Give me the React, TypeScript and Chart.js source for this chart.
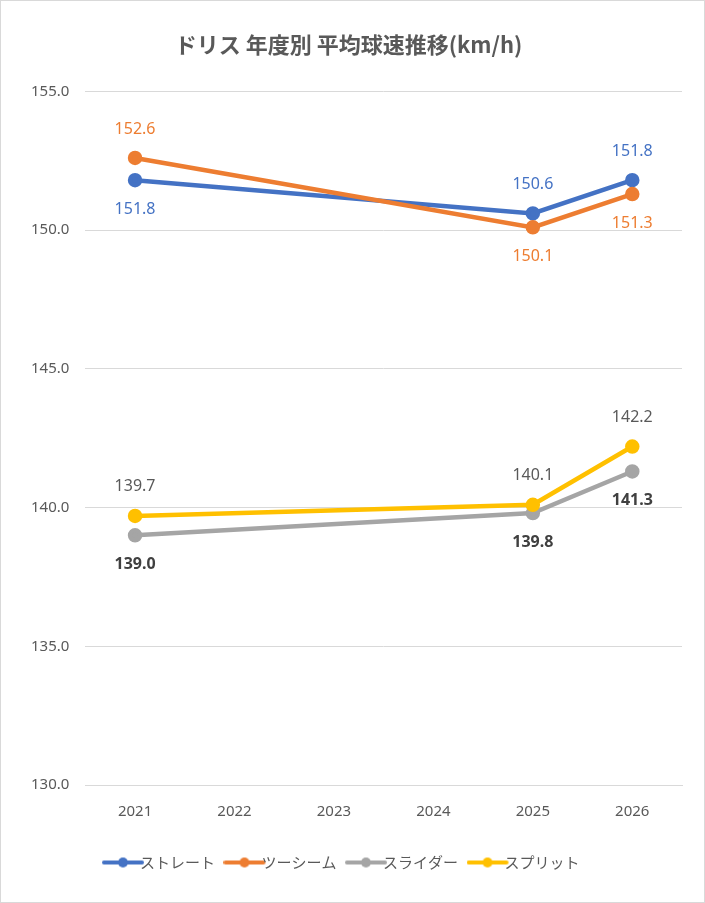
import React, { useEffect, useRef } from "react";
import { Chart, registerables } from "chart.js";
Chart.register(...registerables);

const categories = ["2021", "2022", "2023", "2024", "2025", "2026"];
const seriesNames = ["ストレート", "ツーシーム", "スライダー", "スプリット"];
const straight = [151.8, null, null, null, 150.6, 151.8];
const twoSeam = [152.6, null, null, null, 150.1, 151.3];
const slider = [139.0, null, null, null, 139.8, 141.3];
const split = [139.7, null, null, null, 140.1, 142.2];
const colors = ["#4472C4", "#ED7D31", "#A5A5A5", "#FFC000"];
const labelColors = ["#4472C4", "#ED7D31", "#404040", "#595959"];
const labelBold = [false, false, true, false];
// label placement per point: 1 above, -1 below
const placement = [
  [-1, 0, 0, 0, 1, 1],
  [1, 0, 0, 0, -1, -1],
  [-1, 0, 0, 0, -1, -1],
  [1, 0, 0, 0, 1, 1],
];

function legendIcon(color: string) {
  const c = document.createElement("canvas");
  c.width = 46; c.height = 14;
  const g = c.getContext("2d")!;
  g.strokeStyle = color; g.lineWidth = 4; g.lineCap = "round";
  g.beginPath(); g.moveTo(2, 7); g.lineTo(40, 7); g.stroke();
  g.fillStyle = color; g.beginPath(); g.arc(21, 7, 5, 0, Math.PI * 2); g.fill();
  return c;
}

const labelPlugin = {
  id: "dl",
  afterDatasetsDraw(chart: any) {
    const ctx = chart.ctx;
    chart.data.datasets.forEach((ds: any, i: number) => {
      const meta = chart.getDatasetMeta(i);
      meta.data.forEach((pt: any, j: number) => {
        const v = ds.data[j];
        if (v == null) return;
        ctx.save();
        ctx.font = `${labelBold[i] ? "bold " : ""}16px "Noto Sans", sans-serif`;
        ctx.fillStyle = labelColors[i];
        ctx.textAlign = "center";
        ctx.textBaseline = "middle";
        ctx.fillText(v.toFixed(1), pt.x, pt.y + placement[i][j] * -29);
        ctx.restore();
      });
    });
  },
};

export default function App() {
  const ref = useRef<HTMLCanvasElement>(null);
  useEffect(() => {
    document.body.style.margin = "0";
    const data = [straight, twoSeam, slider, split];
    const chart = new Chart(ref.current!, {
      type: "line",
      data: {
        labels: categories,
        datasets: data.map((d, i) => ({
          label: seriesNames[i],
          data: d,
          borderColor: colors[i],
          backgroundColor: colors[i],
          borderWidth: 4.5,
          pointRadius: 5,
          pointHoverRadius: 5,
          spanGaps: true,
          order: 4 - i,
        })),
      },
      options: {
        animation: false,
        responsive: false,
        layout: { padding: { left: 14, right: 22, top: 6, bottom: 22 } },
        scales: {
          x: {
            offset: true,
            grid: { display: false },
            border: { color: "#D9D9D9" },
            ticks: { color: "#595959", font: { size: 15, family: "Noto Sans" }, padding: 10 },
          },
          y: {
            min: 130, max: 155,
            ticks: { stepSize: 5, color: "#595959", font: { size: 15, family: "Noto Sans" }, callback: (v: any) => Number(v).toFixed(1), padding: 16 },
            grid: { color: "#D9D9D9", drawTicks: false },
            border: { display: false },
          },
        },
        plugins: {
          title: {
            display: true,
            text: "ドリス 年度別 平均球速推移(km/h)",
            color: "#595959",
            font: { size: 22, weight: "bold", family: "Noto Sans CJK JP" },
            padding: { top: 24, bottom: 34 },
          },
          legend: {
            position: "bottom",
            labels: {
              color: "#595959",
              font: { size: 15, family: "Noto Sans CJK JP" },
              usePointStyle: true,
              padding: 24,
              generateLabels: (ch: any) =>
                ch.data.datasets.map((ds: any, i: number) => ({
                  text: ds.label,
                  pointStyle: legendIcon(colors[i]),
                  fontColor: "#595959",
                  datasetIndex: i,
                  hidden: false,
                  lineWidth: 0,
                })),
            },
          },
          tooltip: { enabled: false },
        },
      },
      plugins: [labelPlugin],
    } as any);
    return () => chart.destroy();
  }, []);
  return (
    <div style={{ width: 705, height: 903, boxSizing: "border-box", border: "1px solid #D9D9D9", overflow: "hidden" }}>
      <canvas ref={ref} width={703} height={901} />
    </div>
  );
}
